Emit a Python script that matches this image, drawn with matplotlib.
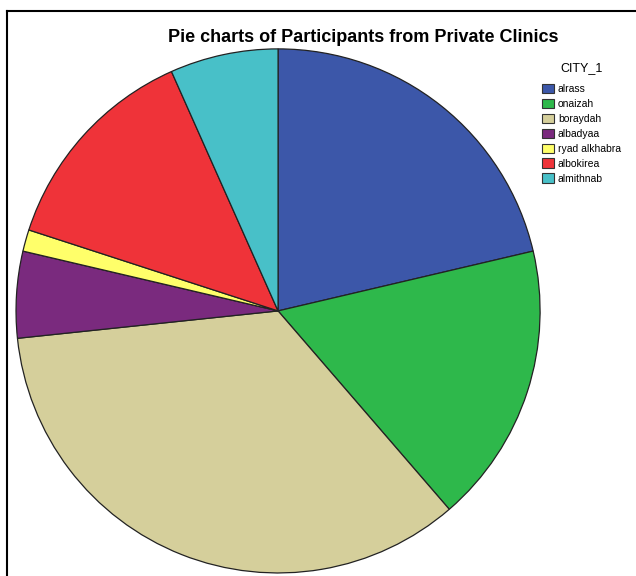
import matplotlib
matplotlib.use('Agg')
import matplotlib.pyplot as plt
from matplotlib.patches import Patch
from matplotlib.lines import Line2D

cities = ['alrass', 'onaizah', 'boraydah', 'albadyaa', 'ryad alkhabra', 'albokirea', 'almithnab']
counts = [16, 13, 26, 4, 1, 10, 5]
colors = ['#3C57A9', '#2EB84B', '#D5CF9B', '#7A2A7E', '#FFFF6A', '#EF3339', '#48C0C8']

plt.rcParams['font.family'] = ['Liberation Sans', 'DejaVu Sans']

fig = plt.figure(figsize=(6.36, 5.76), dpi=100)
ax = fig.add_axes([0.0252, 0.0052, 0.824, 0.910])
ax.pie(counts, colors=colors, startangle=90, counterclock=False,
       wedgeprops=dict(edgecolor='#222222', linewidth=0.9))
ax.set_xlim(-1, 1)
ax.set_ylim(-1, 1)
ax.set_aspect('equal')

fig.text(363 / 636, 1 - 37 / 576, 'Pie charts of Participants from Private Clinics',
         ha='center', va='center', fontsize=13, fontweight='bold')

# frame lines like the original export
fig.add_artist(Line2D([7 / 636, 1], [1 - 11 / 576, 1 - 11 / 576], color='black', lw=1.5))
fig.add_artist(Line2D([7 / 636, 7 / 636], [0, 1 - 11 / 576], color='black', lw=1.5))

handles = [Patch(facecolor=c, edgecolor='#333333', linewidth=0.8) for c in colors]
leg = fig.legend(handles, cities, title='CITY_1', loc='upper left',
                 bbox_to_anchor=(538 / 636, 1 - 58 / 576), frameon=False,
                 fontsize=7.5, title_fontsize=9, handlelength=1.1, handleheight=1.0,
                 handletextpad=0.4, labelspacing=0.45, borderaxespad=0)
leg._legend_box.sep = 7

fig.savefig('out.png', dpi=100)
